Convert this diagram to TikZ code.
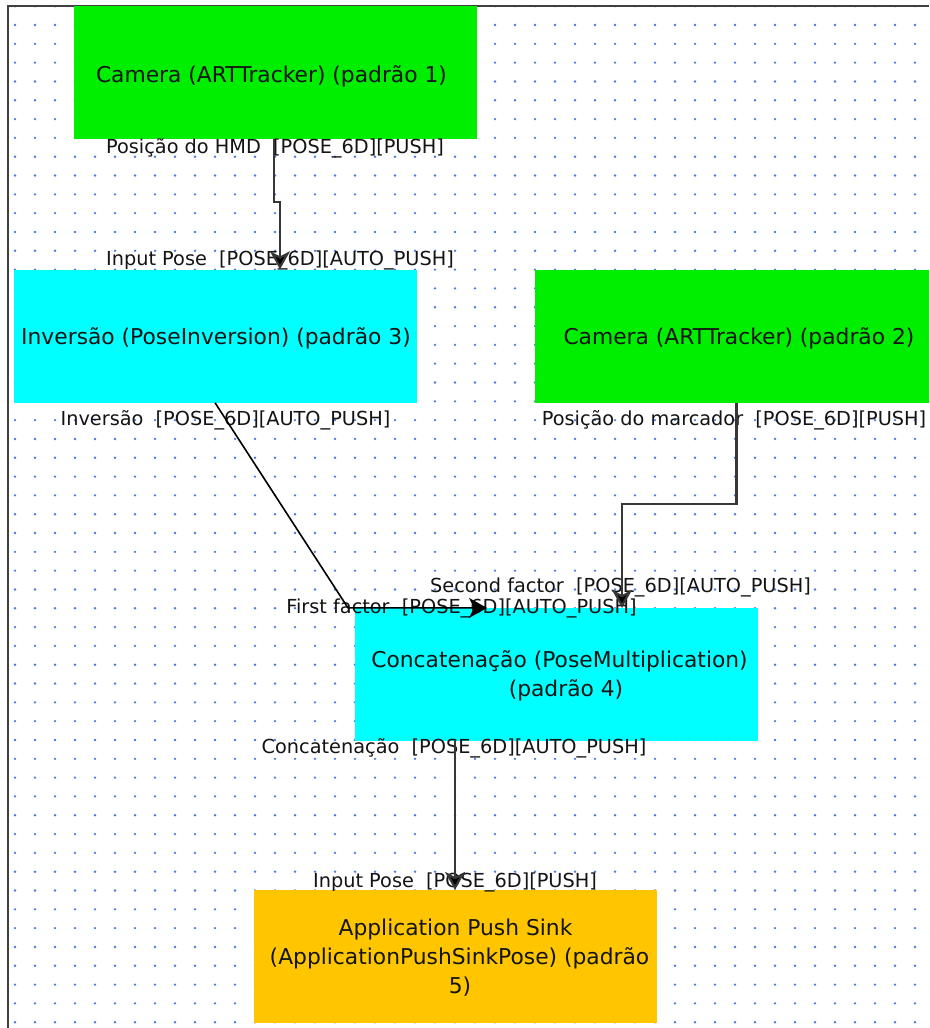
\documentclass[tikz,border=0pt]{standalone}
\usepackage{fontspec}
\setmainfont{DejaVu Sans}
\usetikzlibrary{arrows.meta,calc}

\definecolor{gridblue}{RGB}{70,120,230}
\definecolor{trackgreen}{RGB}{0,238,0}
\definecolor{filtercyan}{RGB}{0,255,255}
\definecolor{sinkorange}{RGB}{255,198,0}
\definecolor{framegray}{RGB}{64,64,64}
\definecolor{wiregray}{RGB}{55,55,55}
\definecolor{inkblack}{RGB}{20,20,20}

\tikzset{
  block/.style={draw=none, rectangle, inner sep=0pt, minimum width=403pt, minimum height=133pt},
  tracker/.style={block, fill=trackgreen},
  filter/.style={block, fill=filtercyan},
  sink/.style={block, fill=sinkorange},
  blocktext/.style={anchor=base, inner sep=0pt, text=inkblack, font=\fontsize{21.8}{29}\selectfont},
  porttext/.style={anchor=base, inner sep=0pt, text=inkblack, font=\fontsize{19.3}{22}\selectfont},
  wire/.style={draw=wiregray, line width=2.2pt, line join=miter,
    -{Stealth[length=18pt, width=20pt, inset=5pt, fill=black]}},
}

\begin{document}
\begin{tikzpicture}[x=1pt, y=-1pt]
  \useasboundingbox (0,0) rectangle (929,1028);
  \clip (0,0) rectangle (929,1028);
  \fill[white] (0,0) rectangle (929,1028);

  % dotted canvas grid
  \foreach \i in {0,...,45} {
    \foreach \j in {0,...,54} {
      \fill[gridblue] ({15+20*\i},{6.2+18.815*\j}) circle (1.3pt);
    }
  }

  % frame (left and top edges)
  \draw[framegray, line width=2pt] (8,1028) -- (8,6) -- (929,6);

  % component blocks
  \node[tracker] (b1) at (275.5,72.5) {};
  \node[filter]  (b2) at (215,336) {};
  \node[tracker] (b3) at (736.5,336) {};
  \node[filter]  (b4) at (556,674.6) {};
  \node[sink]    (b5) at (455.8,956.6) {};

  % block titles
  \node[blocktext] (t1) at (271.5,82) {Camera (ARTTracker) (padrão 1)};
  \node[blocktext] (t2) at (216,344) {Inversão (PoseInversion) (padrão 3)};
  \node[blocktext] (t3) at (739,344) {Camera (ARTTracker) (padrão 2)};
  \node[blocktext] (t4a) at (559.5,667) {Concatenação (PoseMultiplication)};
  \node[blocktext] (t4b) at (566,696) {(padrão 4)};
  \node[blocktext] (t5a) at (455.5,935) {Application Push Sink};
  \node[blocktext] (t5b) at (459.5,964) {(ApplicationPushSinkPose) (padrão};
  \node[blocktext] (t5c) at (460,993) {5)};

  % ports
  \coordinate (b1out) at ([xshift=-1.5pt]b1.south);
  \coordinate (b2in)  at ([xshift=65pt]b2.north);
  \coordinate (b2out) at (b2.south);
  \coordinate (b3out) at (b3.south);
  \coordinate (b4inA) at ([xshift=-69pt]b4.north);
  \coordinate (b4inB) at ([xshift=66pt]b4.north);
  \coordinate (b4out) at ([xshift=-101pt]b4.south);
  \coordinate (b5in)  at (b4out |- b5.north);

  % port labels
  \node[porttext] (l1) at (275,153) {Posição do HMD\ \ [POSE\_6D][PUSH]};
  \node[porttext] (l2) at (280,265) {Input Pose\ \ [POSE\_6D][AUTO\_PUSH]};
  \node[porttext] (l3) at (225.5,425) {Inversão\ \ [POSE\_6D][AUTO\_PUSH]};
  \node[porttext] (l4) at (734,425) {Posição do marcador\ \ [POSE\_6D][PUSH]};
  \node[porttext] (l5) at (620.5,592) {Second factor\ \ [POSE\_6D][AUTO\_PUSH]};
  \node[porttext] (l6) at (461.5,613) {First factor\ \ [POSE\_6D][AUTO\_PUSH]};
  \node[porttext] (l7) at (454,753) {Concatenação\ \ [POSE\_6D][AUTO\_PUSH]};
  \node[porttext] (l8) at (455,887) {Input Pose\ \ [POSE\_6D][PUSH]};

  % connections
  \draw[wire] (b1out) -- ++(0,63) -- ++(6,0) -- (b2in);
  \draw[wire, draw=black, line width=1.6pt] (b2out) -- ($(b4inA)+(-139,0)$) -- (b4inA);
  \draw[wire] (b3out) -- ++(0,101.3) -| (b4inB);
  \draw[wire] (b4out) -- (b5in);
\end{tikzpicture}
\end{document}
